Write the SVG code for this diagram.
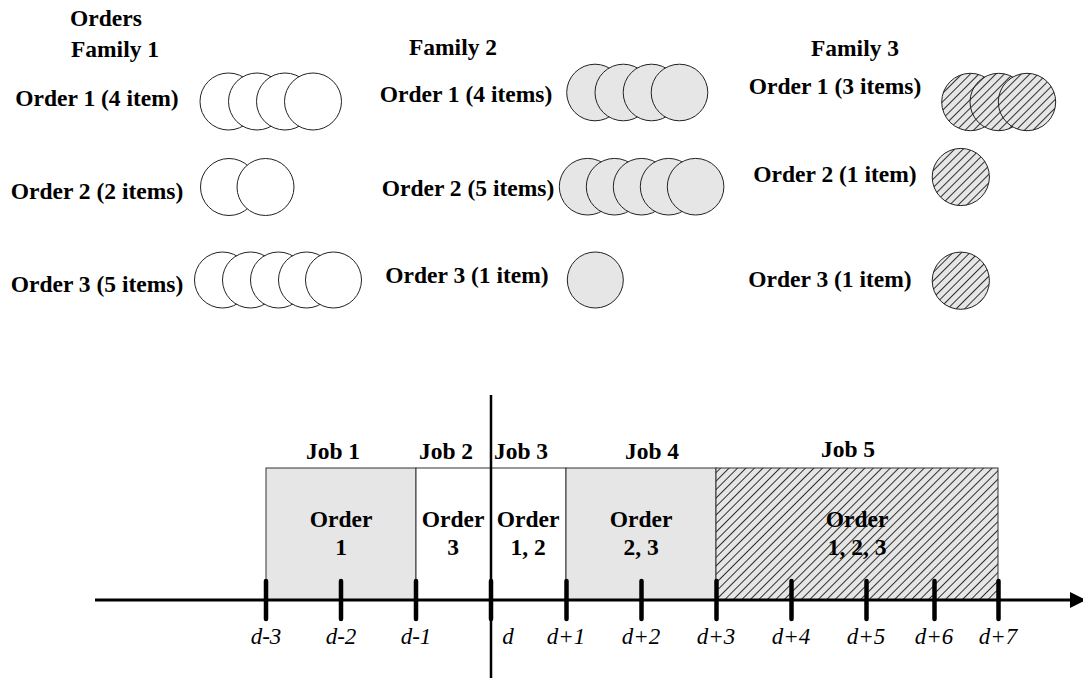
<svg xmlns="http://www.w3.org/2000/svg" width="1083" height="678" viewBox="0 0 1083 678">
<defs>
<pattern id="hatch" width="6" height="6" patternUnits="userSpaceOnUse" patternTransform="rotate(45)">
<rect width="6" height="6" fill="#e6e6e6"/>
<line x1="0" y1="0" x2="0" y2="6" stroke="#1a1a1a" stroke-width="1.8"/>
</pattern>
<marker id="arrow" markerWidth="16" markerHeight="16" refX="10" refY="5" orient="auto" markerUnits="userSpaceOnUse" viewBox="0 0 10 10">
<path d="M0,0 L10,5 L0,10 z" fill="#000"/>
</marker>
</defs>
<style>
text{font-family:"Liberation Serif","Times New Roman",serif;font-size:23.5px;fill:#000}
.b{font-weight:bold;text-anchor:middle}
.i{font-style:italic;text-anchor:middle;font-size:23px}
.w{fill:#fff;stroke:#222;stroke-width:1}
.g{fill:#e6e6e6;stroke:#222;stroke-width:1}
.h{fill:url(#hatch);stroke:#222;stroke-width:1}
.tick{stroke:#000;stroke-width:4.5;stroke-linecap:round}
.box{stroke:#333;stroke-width:1}
</style>
<rect width="1083" height="678" fill="#fff"/>

<g id="family1">
<text class="b" x="106" y="26">Orders</text>
<text class="b" x="115" y="57">Family 1</text>
<g id="f1o1">
<text class="b" x="97" y="106">Order 1 (4 item)</text>
<circle class="w" cx="228.5" cy="101.5" r="28.5"/>
<circle class="w" cx="257" cy="101.5" r="28.5"/>
<circle class="w" cx="285" cy="101.5" r="28.5"/>
<circle class="w" cx="313" cy="101.5" r="28.5"/>
</g>
<g id="f1o2">
<text class="b" x="97" y="199">Order 2 (2 items)</text>
<circle class="w" cx="229" cy="187" r="28.5"/>
<circle class="w" cx="265.5" cy="187" r="28.5"/>
</g>
<g id="f1o3">
<text class="b" x="97" y="292">Order 3 (5 items)</text>
<circle class="w" cx="222.5" cy="280" r="28"/>
<circle class="w" cx="250.5" cy="280" r="28"/>
<circle class="w" cx="278.5" cy="280" r="28"/>
<circle class="w" cx="306.5" cy="280" r="28"/>
<circle class="w" cx="333.5" cy="280" r="28"/>
</g>
</g>

<g id="family2">
<text class="b" x="453" y="55">Family 2</text>
<g id="f2o1">
<text class="b" x="466" y="102">Order 1 (4 items)</text>
<circle class="g" cx="595" cy="92.5" r="28.3"/>
<circle class="g" cx="623.3" cy="92.5" r="28.3"/>
<circle class="g" cx="651.5" cy="92.5" r="28.3"/>
<circle class="g" cx="679.5" cy="92.5" r="28.3"/>
</g>
<g id="f2o2">
<text class="b" x="468" y="196">Order 2 (5 items)</text>
<circle class="g" cx="587.6" cy="186.7" r="28.3"/>
<circle class="g" cx="614.6" cy="186.7" r="28.3"/>
<circle class="g" cx="641.6" cy="186.7" r="28.3"/>
<circle class="g" cx="668.6" cy="186.7" r="28.3"/>
<circle class="g" cx="695.6" cy="186.7" r="28.3"/>
</g>
<g id="f2o3">
<text class="b" x="467" y="283">Order 3 (1 item)</text>
<circle class="g" cx="595.3" cy="280" r="28"/>
</g>
</g>

<g id="family3">
<text class="b" x="855" y="56">Family 3</text>
<g id="f3o1">
<text class="b" x="835" y="94">Order 1 (3 items)</text>
<circle class="h" cx="970.4" cy="102" r="28.7"/>
<circle class="h" cx="998.7" cy="102" r="28.7"/>
<circle class="h" cx="1027" cy="102" r="28.7"/>
</g>
<g id="f3o2">
<text class="b" x="835" y="182">Order 2 (1 item)</text>
<circle class="h" cx="960.8" cy="177" r="28.6"/>
</g>
<g id="f3o3">
<text class="b" x="830" y="287">Order 3 (1 item)</text>
<circle class="h" cx="960.8" cy="280.7" r="28.6"/>
</g>
</g>

<g id="jobs">
<g id="job1">
<rect class="box" x="266" y="468" width="150" height="132" fill="#e6e6e6"/>
<text class="b" x="333" y="459">Job 1</text>
<text class="b" x="341" y="527">Order</text>
<text class="b" x="341" y="555">1</text>
</g>
<g id="job2">
<rect class="box" x="416" y="468" width="75" height="132" fill="#fff"/>
<text class="b" x="446" y="459">Job 2</text>
<text class="b" x="453" y="527">Order</text>
<text class="b" x="453" y="555">3</text>
</g>
<g id="job3">
<rect class="box" x="491" y="468" width="75" height="132" fill="#fff"/>
<text class="b" x="521" y="459">Job 3</text>
<text class="b" x="528" y="527">Order</text>
<text class="b" x="528" y="555">1, 2</text>
</g>
<g id="job4">
<rect class="box" x="566" y="468" width="150" height="132" fill="#e6e6e6"/>
<text class="b" x="652" y="459">Job 4</text>
<text class="b" x="641" y="527">Order</text>
<text class="b" x="641" y="555">2, 3</text>
</g>
<g id="job5">
<rect class="box" x="716" y="468" width="282" height="132" fill="url(#hatch)"/>
<text class="b" x="848" y="457">Job 5</text>
<text class="b" x="857" y="527">Order</text>
<text class="b" x="857" y="555">1, 2, 3</text>
</g>
</g>

<g id="connectors">
<line x1="95" y1="600" x2="1086" y2="600" stroke="#000" stroke-width="3" marker-end="url(#arrow)"/>
<line x1="491" y1="395" x2="491" y2="678" stroke="#000" stroke-width="2.5"/>
<line class="tick" x1="266" y1="581" x2="266" y2="619"/>
<line class="tick" x1="341" y1="581" x2="341" y2="619"/>
<line class="tick" x1="416" y1="581" x2="416" y2="619"/>
<line class="tick" x1="491" y1="581" x2="491" y2="619"/>
<line class="tick" x1="566.5" y1="581" x2="566.5" y2="619"/>
<line class="tick" x1="641.5" y1="581" x2="641.5" y2="619"/>
<line class="tick" x1="716.5" y1="581" x2="716.5" y2="619"/>
<line class="tick" x1="791.5" y1="581" x2="791.5" y2="619"/>
<line class="tick" x1="866.5" y1="581" x2="866.5" y2="619"/>
<line class="tick" x1="934.5" y1="581" x2="934.5" y2="619"/>
<line class="tick" x1="998.5" y1="581" x2="998.5" y2="619"/>
</g>

<g id="ticklabels">
<text class="i" x="266" y="644">d-3</text>
<text class="i" x="341" y="644">d-2</text>
<text class="i" x="416" y="644">d-1</text>
<text class="i" x="508" y="644">d</text>
<text class="i" x="566" y="644">d+1</text>
<text class="i" x="641" y="644">d+2</text>
<text class="i" x="716" y="644">d+3</text>
<text class="i" x="791" y="644">d+4</text>
<text class="i" x="866" y="644">d+5</text>
<text class="i" x="934" y="644">d+6</text>
<text class="i" x="998" y="644">d+7</text>
</g>
</svg>
